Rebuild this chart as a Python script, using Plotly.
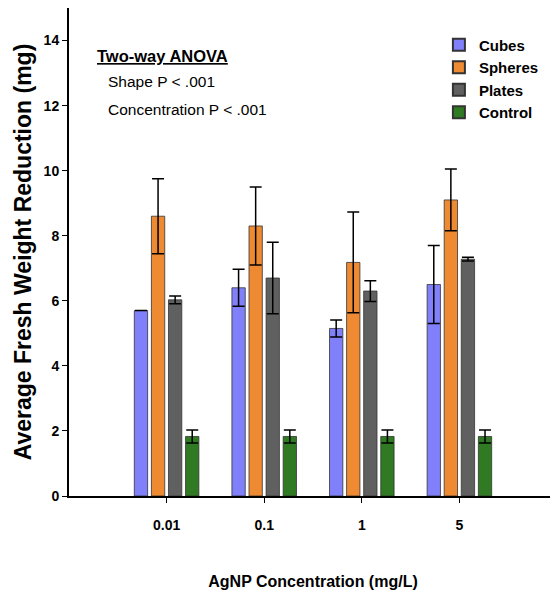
import plotly.graph_objects as go

categories = ["0.01", "0.1", "1", "5"]
series_names = ["Cubes", "Spheres", "Plates", "Control"]
cubes = [5.70, 6.40, 5.15, 6.50]
cubes_err = [0.0, 0.57, 0.26, 1.20]
spheres = [8.60, 8.30, 7.18, 9.10]
spheres_err = [1.15, 1.20, 1.55, 0.95]
plates = [6.03, 6.70, 6.30, 7.28]
plates_err = [0.12, 1.10, 0.32, 0.06]
control = [1.83, 1.83, 1.83, 1.83]
control_err = [0.20, 0.20, 0.20, 0.20]
colors = ["#8080fb", "#ee8a32", "#606060", "#2f7a22"]
y_ticks = [0, 2, 4, 6, 8, 10, 12, 14]

FONT = "Liberation Sans, Arial, sans-serif"

fig = go.Figure()
xs = list(range(len(categories)))
for name, vals, errs, col in zip(series_names,
                                 [cubes, spheres, plates, control],
                                 [cubes_err, spheres_err, plates_err, control_err],
                                 colors):
    fig.add_trace(go.Bar(
        x=xs, y=vals, name=name,
        marker=dict(color=col, line=dict(color="#333333", width=0.8)),
        error_y=dict(type="data", array=errs, visible=True, color="black",
                     thickness=1.5, width=6),
    ))

# the page body has an 8px margin, so the figure is 8px smaller than the window
fig.update_layout(
    width=550, height=591,
    margin=dict(l=61, r=1, t=0, b=103, autoexpand=False),
    paper_bgcolor="white", plot_bgcolor="white",
    barmode="group", bargap=0.3, bargroupgap=0.22,
    font=dict(family=FONT, color="black"),
    showlegend=True,
    legend=dict(x=0.758, y=0.958, xanchor="left", yanchor="top",
                bgcolor="rgba(0,0,0,0)", tracegroupgap=0,
                font=dict(size=15, family=FONT, weight="bold"),
                itemsizing="constant"),
    xaxis=dict(range=[-1, 4], tickvals=xs, ticktext=categories,
               showline=True, linecolor="black", linewidth=2, mirror=True,
               ticks="outside", ticklen=5, tickcolor="black",
               ticklabelstandoff=10, automargin=False,
               tickfont=dict(size=14, family=FONT, weight="bold"),
               showgrid=False, zeroline=False,
               title=dict(text="AgNP Concentration (mg/L)", standoff=44,
                          font=dict(size=16, family=FONT, weight="bold"))),
    yaxis=dict(range=[0, 15], tickvals=y_ticks,
               showline=True, linecolor="black", linewidth=2, mirror=True,
               ticks="outside", ticklen=5, tickcolor="black",
               automargin=False,
               tickfont=dict(size=14, family=FONT, weight="bold"),
               showgrid=False, zeroline=False,
               title=dict(text="Average Fresh Weight Reduction (mg)", standoff=6,
                          font=dict(size=23, family=FONT, weight="bold"))),
)

fig.add_annotation(xref="paper", yref="paper", x=0.053, y=0.902, xanchor="left", yanchor="middle",
                   text="<u>Two-way ANOVA</u>", showarrow=False,
                   font=dict(size=16.5, family=FONT, weight="bold"))
fig.add_annotation(xref="paper", yref="paper", x=0.076, y=0.849, xanchor="left", yanchor="middle",
                   text="Shape P < .001", showarrow=False,
                   font=dict(size=15.5, family=FONT))
fig.add_annotation(xref="paper", yref="paper", x=0.076, y=0.793, xanchor="left", yanchor="middle",
                   text="Concentration P < .001", showarrow=False,
                   font=dict(size=15.5, family=FONT))

fig.write_html("out.html")
